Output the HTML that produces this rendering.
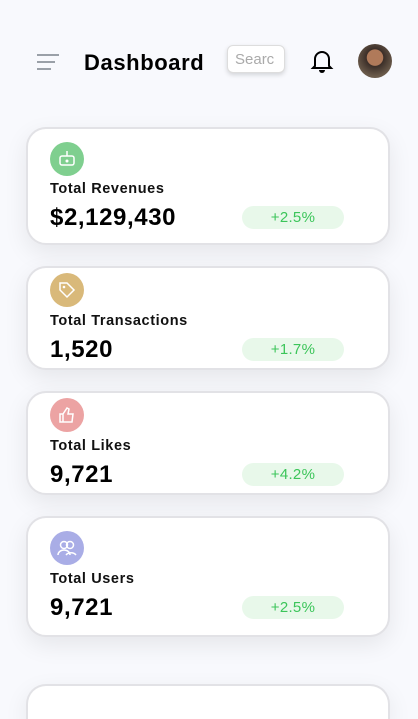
<!DOCTYPE html>
<html style="overflow:hidden;height:719px"><head><meta charset="utf-8"><style>
*{box-sizing:border-box;margin:0;padding:0}
body{width:418px;height:719px;overflow:hidden;background:#f8f9fd;font-family:"Liberation Sans",sans-serif;position:relative}
.card{position:absolute;left:26px;width:364px;background:#fff;border:2px solid #e2e2e6;border-radius:20px;box-shadow:0 8px 24px rgba(0,0,0,0.08);overflow:hidden}
.ic{position:absolute;left:22px;width:34px;height:34px;border-radius:50%;display:flex;align-items:center;justify-content:center}
.t{position:absolute;left:22px;font-size:14.5px;font-weight:bold;color:#111;letter-spacing:0.6px}
.v{position:absolute;left:22px;font-size:24px;font-weight:bold;color:#000;letter-spacing:0.6px}
.b{position:absolute;left:214px;width:102px;height:23px;border-radius:12px;background:#e8f8ea;color:#3cc55a;font-size:15px;text-align:center;line-height:23px;letter-spacing:0.3px}
</style></head><body>
<div style="position:absolute;left:37px;top:54px;width:22px">
<div style="height:2px;background:#9aa0a8;margin-bottom:5px;width:22px"></div>
<div style="height:2px;background:#9aa0a8;margin-bottom:5px;width:18px"></div>
<div style="height:2px;background:#9aa0a8;width:14px"></div></div>
<div style="position:absolute;left:84px;top:50px;font-size:22px;font-weight:bold;color:#000;letter-spacing:0.6px">Dashboard</div>
<div style="position:absolute;left:227px;top:45px;width:58px;height:28px;background:#fff;border:1px solid #ddd;border-radius:6px;box-shadow:0 2px 5px rgba(0,0,0,0.15);font-size:15px;color:#aaa;padding:5px 0 0 7px;overflow:hidden">Searc</div>
<svg style="position:absolute;left:310px;top:48px" width="24" height="26" viewBox="0 0 24 26"><path d="M5 18V11a7 7 0 0 1 14 0v7l2 2H3z" fill="none" stroke="#000" stroke-width="2"/><path d="M9 22a3 3 0 0 0 6 0" fill="#000"/></svg>
<div style="position:absolute;left:358px;top:44px;width:34px;height:34px;border-radius:50%;background:radial-gradient(circle at 50% 40%,#b07a5a 0 30%,#3b2e28 32%,#6a5a4a 70%)"></div>

<div class="card" style="top:127px;height:118px">
<div class="ic" style="top:13px;background:#7fcf8f"><svg width="18" height="16"><rect x="2" y="5" width="14" height="9" rx="2" fill="none" stroke="#fff" stroke-width="1.5"/><circle cx="9" cy="10" r="1.5" fill="#fff"/><path d="M9 0v5" stroke="#fff" stroke-width="1.5"/></svg></div>
<div class="t" style="top:52px">Total Revenues</div><div class="v" style="top:75px">$2,129,430</div><div class="b" style="top:77px">+2.5%</div></div>

<div class="card" style="top:266px;height:104px">
<div class="ic" style="top:5px;background:#d9b97a"><svg width="18" height="18"><path d="M2 2h7l7 7-7 7-7-7z" fill="none" stroke="#fff" stroke-width="1.5"/><circle cx="6" cy="6" r="1.3" fill="#fff"/></svg></div>
<div class="t" style="top:45px">Total Transactions</div><div class="v" style="top:68px">1,520</div><div class="b" style="top:70px">+1.7%</div></div>

<div class="card" style="top:391px;height:104px">
<div class="ic" style="top:5px;background:#eca3a3"><svg width="18" height="18"><path d="M2 8h3v8H2zM5 8l4-6 2 1-1 5h5l-1 8H5" fill="none" stroke="#fff" stroke-width="1.5"/></svg></div>
<div class="t" style="top:45px">Total Likes</div><div class="v" style="top:68px">9,721</div><div class="b" style="top:70px">+4.2%</div></div>

<div class="card" style="top:516px;height:121px">
<div class="ic" style="top:13px;background:#a9ade6"><svg width="20" height="16"><circle cx="7" cy="5" r="3.5" fill="none" stroke="#fff" stroke-width="1.5"/><circle cx="13" cy="5" r="3.5" fill="none" stroke="#fff" stroke-width="1.5"/><path d="M1 15a6 5 0 0 1 12 0M9 15a6 5 0 0 1 10 0" fill="none" stroke="#fff" stroke-width="1.5"/></svg></div>
<div class="t" style="top:53px">Total Users</div><div class="v" style="top:76px">9,721</div><div class="b" style="top:78px">+2.5%</div></div>

<div class="card" style="top:684px;height:35px;border-bottom:none;border-radius:20px 20px 0 0"></div>
</body></html>
